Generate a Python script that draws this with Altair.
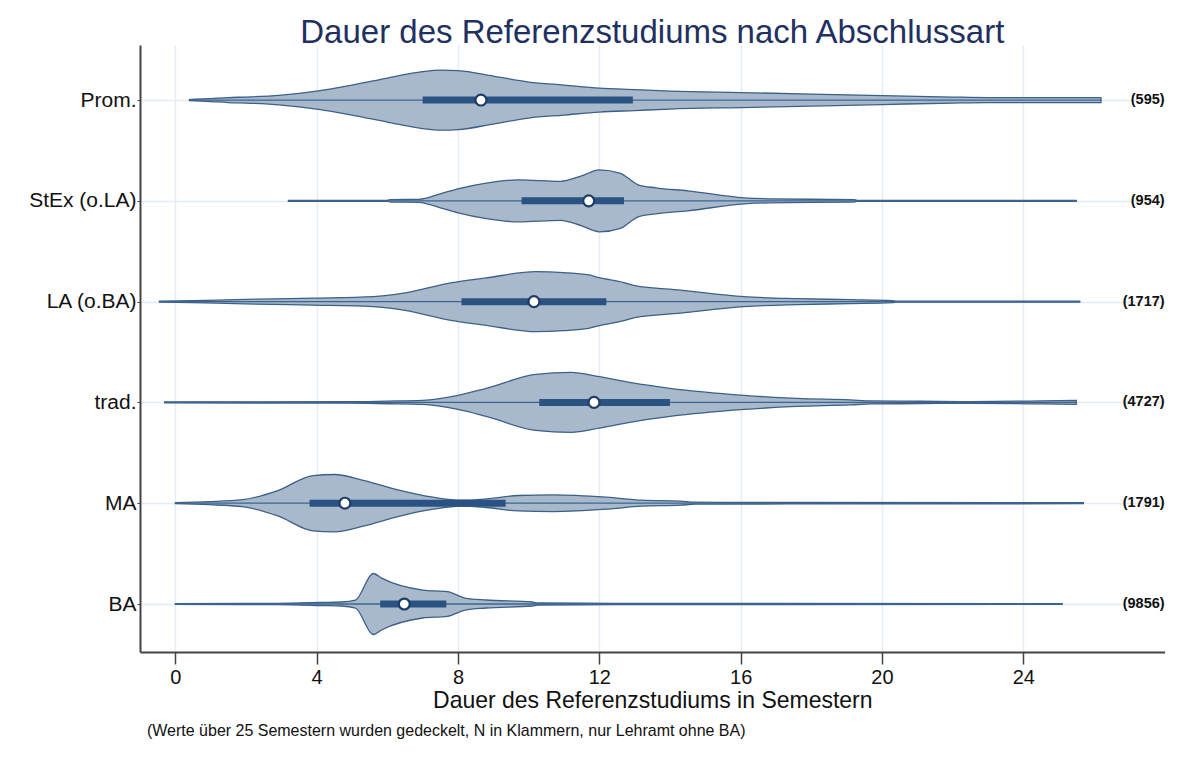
import altair as alt
import pandas as pd

# ---------------- data ----------------
cats = ["Prom.", "StEx (o.LA)", "LA (o.BA)", "trad.", "MA", "BA"]
positions = [5, 4, 3, 2, 1, 0]
n_obs = [595, 954, 1717, 4727, 1791, 9856]
medians = [8.65, 11.7, 10.15, 11.85, 4.8, 6.48]
q1 = [7.0, 9.8, 8.1, 10.3, 3.8, 5.8]
q3 = [12.95, 12.7, 12.2, 14.0, 9.35, 7.67]

# density outlines (semester value, relative half width)
prom_x = [0.4, 1.0, 1.5, 2.0, 3.0, 4.0, 5.0, 6.0, 7.0, 7.5, 8.0, 9.0, 10.0, 11.0,
          12.0, 13.0, 14.0, 16.0, 18.0, 20.0, 22.0, 23.0, 25.0, 26.2]
prom_d = [0.5, 1.5, 2.5, 3.0, 5.0, 9.0, 15.0, 22.0, 28.5, 30.0, 29.5, 24.0, 18.0, 15.0,
          12.0, 10.5, 9.0, 7.5, 6.0, 4.5, 3.0, 2.5, 2.5, 2.5]

stex_x = [3.2, 6.0, 6.1, 6.9, 7.5, 8.0, 8.8, 9.7, 10.9, 11.5, 12.0, 12.6, 13.1, 13.6,
          14.5, 16.1, 16.8, 19.2, 19.3, 25.5]
stex_d = [0.5, 0.5, 1.2, 1.5, 7.0, 12.0, 17.7, 21.0, 19.5, 25.0, 31.0, 27.5, 16.0, 13.0,
          10.0, 3.0, 2.0, 1.2, 0.5, 0.5]

la_x = [-0.45, 0.5, 1.2, 2.3, 3.9, 5.6, 6.5, 7.8, 8.8, 10.2, 11.0, 11.7, 12.0, 12.7,
        13.0, 14.3, 16.1, 17.6, 19.1, 20.3, 20.4, 25.6]
la_d = [0.5, 1.0, 1.5, 2.5, 3.5, 5.0, 8.7, 18.7, 23.7, 30.0, 29.0, 26.7, 24.0, 19.0,
        16.0, 11.5, 5.0, 3.0, 2.0, 1.0, 0.5, 0.5]

trad_x = [-0.3, 4.9, 6.0, 7.0, 8.0, 8.8, 10.2, 11.2, 12.0, 12.9, 14.0, 16.1, 17.6,
          19.1, 19.7, 21.1, 22.3, 24.5, 25.5]
trad_d = [0.5, 0.7, 1.3, 2.0, 7.0, 14.0, 28.0, 30.0, 25.7, 19.7, 14.0, 7.0, 4.0,
          2.5, 1.5, 1.2, 0.8, 1.5, 2.0]

ma_x = [0.0, 0.96, 1.9, 2.9, 3.9, 4.5, 5.35, 6.3, 7.3, 8.1, 8.8, 9.7, 10.7, 12.2,
        13.2, 14.3, 14.7, 17.3, 25.7]
ma_d = [0.5, 1.5, 3.5, 12.7, 27.7, 28.7, 22.7, 13.4, 6.0, 3.0, 4.3, 7.7, 8.4, 6.0,
        3.0, 2.0, 1.0, 0.7, 0.5]

ba_x = [0.0, 2.9, 4.1, 4.7, 5.1, 5.6, 5.85, 7.0, 7.7, 8.2, 8.8, 10.1, 10.25, 12.4, 25.1]
ba_d = [0.4, 0.7, 1.5, 2.0, 4.0, 30.5, 25.7, 14.0, 12.3, 6.0, 4.0, 2.0, 1.0, 0.7, 0.4]

x_ticks = [0, 4, 8, 12, 16, 20, 24]

title_text = "Dauer des Referenzstudiums nach Abschlussart"
x_title = "Dauer des Referenzstudiums in Semestern"
note_text = "(Werte über 25 Semestern wurden gedeckelt, N in Klammern, nur Lehramt ohne BA)"

# ---------------- build tables ----------------
WSCALE = 1 / 100.8  # violin half-width scaling to category spacing
shapes = [(prom_x, prom_d), (stex_x, stex_d), (la_x, la_d),
          (trad_x, trad_d), (ma_x, ma_d), (ba_x, ba_d)]
rows = []
for c, p, (xs, ds) in zip(cats, positions, shapes):
    for xv, dv in zip(xs, ds):
        rows.append({"cat": c, "pos": p, "x": xv,
                     "lo": p - dv * WSCALE, "hi": p + dv * WSCALE})
vdf = pd.DataFrame(rows)

sdf = pd.DataFrame({
    "cat": cats, "pos": positions, "median": medians, "q1": q1, "q3": q3,
    "xmin": [s[0][0] for s in shapes], "xmax": [s[0][-1] for s in shapes],
    "nlab": ["(" + str(n) + ")" for n in n_obs],
})

FONT = "Liberation Sans"
W, H = 1024.6, 607
label_expr = "[" + ",".join("'" + c + "'" for c in cats[::-1]) + "][datum.value]"

xscale = alt.Scale(domain=[-1, 28], nice=False, zero=False)
yscale = alt.Scale(domain=[-0.476, 5.546], nice=False, zero=False)

xaxis = alt.Axis(values=x_ticks, tickSize=12, tickColor="#444", tickWidth=1.5,
                 labelFontSize=20, labelColor="#111", labelPadding=4, labelFont=FONT,
                 domainColor="#444", domainWidth=2, grid=True, gridColor="#e4ecf1",
                 gridWidth=1.5, title=x_title, titleFontSize=23, titleFont=FONT,
                 titleFontWeight="normal", titleColor="#111", titlePadding=2)
yaxis = alt.Axis(values=positions, labelExpr=label_expr, tickSize=3, tickColor="#444",
                 labelFontSize=21, labelColor="#111", labelPadding=1, labelFont=FONT,
                 domainColor="#444", domainWidth=2, grid=True, gridColor="#e4ecf1",
                 gridWidth=1.5, title=None)

violin = alt.Chart(vdf).mark_area(
    orient="vertical", interpolate="monotone", fill="#a9b9cc", fillOpacity=1,
    stroke="#3d5f88", strokeWidth=1.3
).encode(
    x=alt.X("x:Q", scale=xscale, axis=xaxis),
    y=alt.Y("lo:Q", scale=yscale, axis=yaxis),
    y2="hi:Q",
    detail="cat:N",
)

whisker = alt.Chart(sdf).mark_rule(color="#3b6692", strokeWidth=1.3).encode(
    x="xmin:Q", x2="xmax:Q", y="pos:Q")

box = alt.Chart(sdf).mark_rule(color="#2a5384", strokeWidth=7).encode(
    x="q1:Q", x2="q3:Q", y="pos:Q")

med = alt.Chart(sdf).mark_point(
    filled=True, fill="white", stroke="#1e3d66", strokeWidth=2.2, size=120, opacity=1
).encode(x="median:Q", y="pos:Q")

nlab = alt.Chart(sdf).mark_text(
    align="right", baseline="middle", fontSize=14.5, fontWeight="bold", font=FONT,
    color="#111"
).encode(x=alt.value(W), y="pos:Q", text="nlab:N")

note = alt.Chart(pd.DataFrame({"t": [note_text]})).mark_text(
    align="left", baseline="middle", fontSize=16, font=FONT, color="#111"
).encode(x=alt.value(7), y=alt.value(H + 79), text="t:N")

chart = alt.layer(violin, whisker, box, med, nlab, note).properties(
    width=W, height=H,
    title=alt.TitleParams(title_text, fontSize=33, font=FONT, fontWeight="normal",
                          color="#1f3061", anchor="middle", offset=-5),
    autosize=alt.AutoSizeParams(type="none"),
    padding={"left": 132, "top": 37, "right": 5, "bottom": 105},
).configure_view(stroke=None)

chart.save("out.html", embed_options={"renderer": "svg", "actions": False})
